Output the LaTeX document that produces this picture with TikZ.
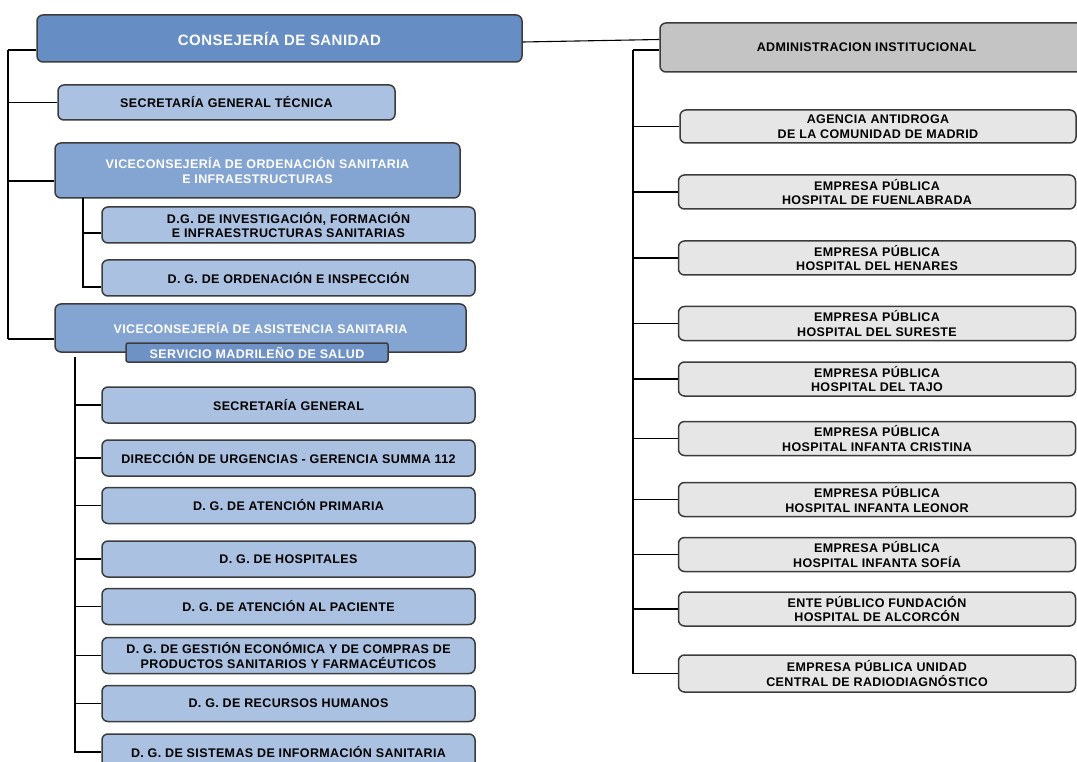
\documentclass[tikz,border=0pt]{standalone}
\usepackage{fontspec}
\setmainfont{Liberation Sans}[LetterSpace=3]
\usetikzlibrary{positioning}

\definecolor{csblue}{RGB}{102,142,196}
\definecolor{viceblue}{RGB}{132,164,209}
\definecolor{smsblue}{RGB}{110,146,198}
\definecolor{dgblue}{RGB}{170,193,225}
\definecolor{aigray}{RGB}{196,196,196}
\definecolor{epgray}{RGB}{230,230,230}
\definecolor{boxline}{RGB}{60,60,60}

\begin{document}
\begin{tikzpicture}[x=1pt,y=-1pt,line width=1.1pt]
  \tikzset{every node/.style={draw=boxline,line width=1.5pt,rounded corners=6pt,
      align=center,inner sep=0pt,font=\bfseries\fontsize{12.5}{14.5}\selectfont}}
  \tikzset{vice/.style={fill=viceblue,text=white,minimum width=405,minimum height=55},
           dg/.style={fill=dgblue,minimum width=373,minimum height=36},
           ep/.style={fill=epgray,minimum width=397,minimum height=34}}
  \useasboundingbox (0,0) rectangle (1077,762);

  % left: consejeria
  \node[fill=csblue,text=white,minimum width=485,minimum height=47,
        font=\bfseries\fontsize{15}{18}\selectfont] (cs) at (279.5,38.5) {CONSEJERÍA DE SANIDAD};
  \node[dg,minimum width=337,minimum height=35] (sgt) at (226.5,102.5) {SECRETARÍA GENERAL TÉCNICA};
  \node[vice] (vos) at (257.5,170.5) {VICECONSEJERÍA DE ORDENACIÓN SANITARIA\\E INFRAESTRUCTURAS};
  \node[dg] (dgi) at (288.5,225) {D.G. DE INVESTIGACIÓN, FORMACIÓN\\E INFRAESTRUCTURAS SANITARIAS};
  \node[dg] (dgo) at (288.5,278) {D. G. DE ORDENACIÓN E INSPECCIÓN};
  \node[vice,minimum width=411,minimum height=48] (vas) at (260.5,328) {VICECONSEJERÍA DE ASISTENCIA SANITARIA};
  \node[fill=smsblue,text=white,minimum width=262,minimum height=19,rounded corners=2pt] (sms) at (257,352.5) {SERVICIO MADRILEÑO DE SALUD};

  \node[dg] (sg)  at (288.5,405)   {SECRETARÍA GENERAL};
  \node[dg] (urg) at (288.5,458)   {DIRECCIÓN DE URGENCIAS - GERENCIA SUMMA 112};
  \node[dg] (ap)  at (288.5,505.5) {D. G. DE ATENCIÓN PRIMARIA};
  \node[dg] (hos) at (288.5,559)   {D. G. DE HOSPITALES};
  \node[dg] (pac) at (288.5,606.5) {D. G. DE ATENCIÓN AL PACIENTE};
  \node[dg] (ges) at (288.5,655.5) {D. G. DE GESTIÓN ECONÓMICA Y DE COMPRAS DE\\PRODUCTOS SANITARIOS Y FARMACÉUTICOS};
  \node[dg] (rh)  at (288.5,703.5) {D. G. DE RECURSOS HUMANOS};
  \node[dg] (sis) at (288.5,752)   {D. G. DE SISTEMAS DE INFORMACIÓN SANITARIA};

  % right: administracion institucional
  \node[fill=aigray,minimum width=425,minimum height=49] (ai) at (872.5,47.5) {ADMINISTRACION INSTITUCIONAL\hspace*{12pt}};
  \node[ep,minimum width=396,minimum height=33] (aa) at (878,126.5) {AGENCIA ANTIDROGA\\DE LA COMUNIDAD DE MADRID};
  \node[ep] (fu) at (877,192)   {EMPRESA PÚBLICA\\HOSPITAL DE FUENLABRADA};
  \node[ep] (he) at (877,258)   {EMPRESA PÚBLICA\\HOSPITAL DEL HENARES};
  \node[ep] (su) at (877,323.5) {EMPRESA PÚBLICA\\HOSPITAL DEL SURESTE};
  \node[ep] (ta) at (877,379)   {EMPRESA PÚBLICA\\HOSPITAL DEL TAJO};
  \node[ep] (ic) at (877,438.5) {EMPRESA PÚBLICA\\HOSPITAL INFANTA CRISTINA};
  \node[ep] (il) at (877,499.5) {EMPRESA PÚBLICA\\HOSPITAL INFANTA LEONOR};
  \node[ep] (is) at (877,554.5) {EMPRESA PÚBLICA\\HOSPITAL INFANTA SOFÍA};
  \node[ep] (ha) at (877,609)   {ENTE PÚBLICO FUNDACIÓN\\HOSPITAL DE ALCORCÓN};
  \node[ep,minimum height=37] (rd) at (877,673.5) {EMPRESA PÚBLICA UNIDAD\\CENTRAL DE RADIODIAGNÓSTICO};

  % connectors
  \coordinate (lt) at (8,50);
  \coordinate (lv) at (8,181);
  \coordinate (lb) at (8,339);
  \draw (lt) -- (lb);
  \draw (lt) -- (lt -| cs.west);
  \draw (lt |- sgt.west) -- (sgt.west);
  \draw (lv) -- (lv -| vos.west);
  \draw (lb) -- (lb -| vas.west);

  \coordinate (vt) at (83,198);
  \draw (vt) |- ([yshift=-9pt]dgo.west);
  \draw (vt |- dgi.west) ++(0,8) -- ([yshift=-8pt]dgi.west);

  \coordinate (st) at (75,357);
  \draw (st) |- (sis.west);
  \foreach \n in {sg,urg,ap,hos,pac,ges,rh}
    \draw (st |- \n.west) -- (\n.west);

  \draw ([yshift=-3.5pt]cs.east) -- ([yshift=8pt]ai.west);
  \coordinate (rt) at (633,50);
  \draw (rt) |- (rd.west);
  \draw (rt) -- (rt -| ai.west);
  \foreach \n in {aa,fu,he,su,ta,ic,il,is,ha}
    \draw (rt |- \n.west) -- (\n.west);
\end{tikzpicture}
\end{document}
